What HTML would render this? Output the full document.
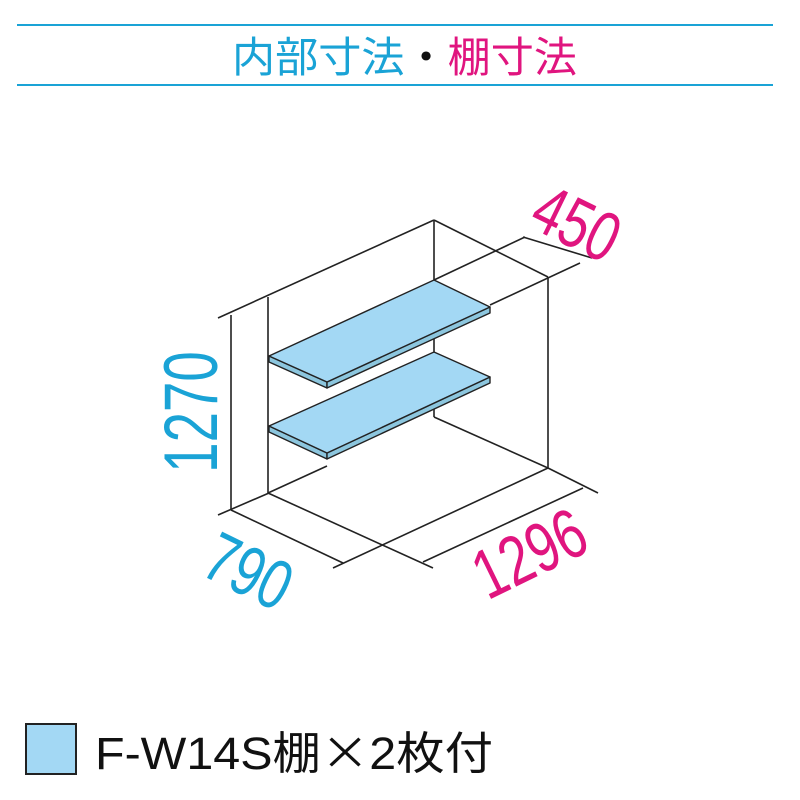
<!DOCTYPE html>
<html><head><meta charset="utf-8"><style>
html,body{margin:0;padding:0;background:#fff;width:800px;height:800px;overflow:hidden}
svg{display:block}
</style></head><body>
<svg width="800" height="800" viewBox="0 0 800 800" xmlns="http://www.w3.org/2000/svg">
<line x1="17" y1="25" x2="773" y2="25" stroke="#1aa3d6" stroke-width="2"/>
<line x1="17" y1="85" x2="773" y2="85" stroke="#1aa3d6" stroke-width="2"/>
<text x="232" y="72" font-family="'Noto Sans CJK JP',sans-serif" font-size="42" textLength="345" lengthAdjust="spacingAndGlyphs"><tspan fill="#1aa3d6">内部寸法</tspan><tspan fill="#111">・</tspan><tspan fill="#e0157f">棚寸法</tspan></text>

<g stroke="#222" stroke-width="1.6" fill="none">
<line x1="218" y1="318" x2="434" y2="220"/>
<line x1="434" y1="220" x2="548" y2="277"/>
<line x1="268" y1="297" x2="268" y2="493"/>
<line x1="548" y1="277" x2="548" y2="468"/>
<line x1="434" y1="220" x2="434" y2="300"/>
<line x1="434" y1="337" x2="434" y2="353"/>
<line x1="434" y1="407" x2="434" y2="417"/>
<line x1="231" y1="315" x2="231" y2="510"/>
<line x1="268" y1="493" x2="327" y2="466"/>
<line x1="434" y1="417" x2="548" y2="468"/>
<line x1="218" y1="515" x2="269" y2="493"/>
<line x1="231" y1="510" x2="343" y2="563"/>
<line x1="268" y1="493" x2="433" y2="568"/>
<line x1="333" y1="568" x2="548" y2="468"/>
<line x1="548" y1="468" x2="598" y2="493"/>
<line x1="423" y1="562" x2="583" y2="488"/>
<line x1="490" y1="305" x2="580" y2="263"/>
<line x1="434" y1="280" x2="525" y2="237"/>
<line x1="523" y1="237" x2="592" y2="258"/>
</g>
<g stroke="#222" stroke-width="1.4" stroke-linejoin="round">
<polygon points="269,356 327,382 327,388 269,362" fill="#8cc6de"/>
<polygon points="327,382 490,307 490,313 327,388" fill="#8cc6de"/>
<polygon points="269,356 434,280 490,307 327,382" fill="#a3d8f4"/>
<polygon points="269,426 327,453 327,459 269,432" fill="#8cc6de"/>
<polygon points="327,453 490,377 490,383 327,459" fill="#8cc6de"/>
<polygon points="269,426 434,352 490,377 327,453" fill="#a3d8f4"/>
</g>
<g font-family="'Liberation Sans',sans-serif" font-size="70">
<text transform="translate(566,245) rotate(26) scale(0.75,1)" text-anchor="middle" fill="#e0157f">450</text>
<text transform="translate(217,412) rotate(-90) scale(0.72,1)" text-anchor="middle" fill="#1aa3d6" font-size="76">1270</text>
<text transform="translate(238,593) rotate(26) scale(0.75,1)" text-anchor="middle" fill="#1aa3d6">790</text>
<text transform="translate(540,575) rotate(-26) scale(0.75,1)" text-anchor="middle" fill="#e0157f">1296</text>
</g>
<rect x="26" y="724" width="50" height="50" fill="#a3d8f4" stroke="#222" stroke-width="2"/>
<text x="95" y="769" font-family="'Liberation Sans','Noto Sans CJK JP',sans-serif" font-size="45" fill="#111" textLength="398" lengthAdjust="spacingAndGlyphs">F-W14S棚<tspan font-family="'Noto Sans CJK JP',sans-serif">×</tspan>2枚付</text>
</svg>
</body></html>
